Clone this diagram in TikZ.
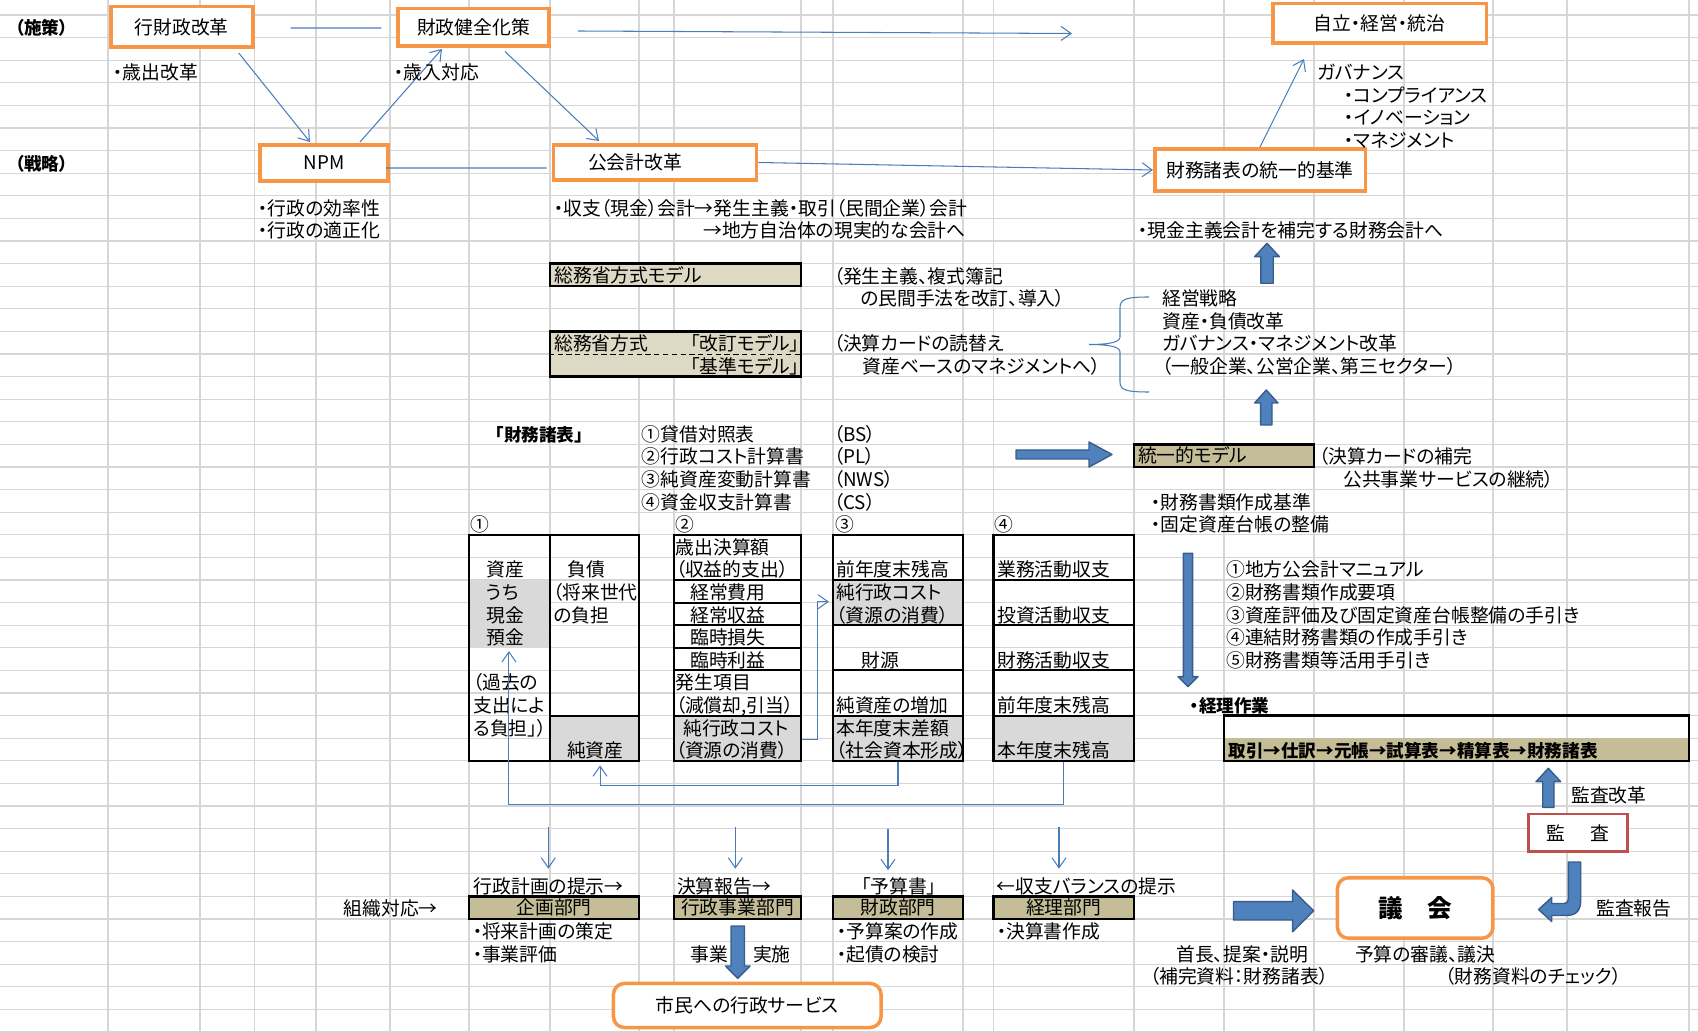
\documentclass[tikz,border=0pt]{standalone}
\usepackage{fontspec}
\setmainfont{Noto Sans CJK JP}[RawFeature=+palt]
\usetikzlibrary{calc,arrows.meta}
\definecolor{lnblue}{HTML}{4A7EBB}
\definecolor{arrblue}{HTML}{4F81BD}
\definecolor{arredge}{HTML}{385D8A}
\definecolor{obord}{HTML}{F79646}
\definecolor{rbord}{HTML}{C0504D}
\definecolor{tanlt}{HTML}{DDD9C4}
\definecolor{tandk}{HTML}{C4BD97}
\definecolor{cellgr}{HTML}{D9D9D9}
\definecolor{gridc}{HTML}{D6D6D6}
\tikzset{
  gridln/.style={draw=gridc,line width=0.6pt},
  boxsz/.style 2 args={minimum width=#1*0.02cm,minimum height=#2*0.02cm},
  obox/.style={draw=obord,fill=white,line width=2pt,inner sep=0pt},   % orange box
  rbox/.style={obox,rounded corners=0.22cm},                         % rounded orange box
  kbox/.style={draw=rbord,fill=white,line width=1.5pt,inner sep=0pt}, % red box
  tbox/.style={draw=black,line width=1.4pt,inner sep=0pt},            % tan cell
  tbl/.style={draw=black,line width=1.2pt,inner sep=0pt},             % statement table
  cellln/.style={line width=1.2pt},
  cellfill/.style={fill=cellgr},
  txt/.style={anchor=west,inner sep=0pt,text height=0.83em,text depth=0.07em},
  btxt/.style={txt,font=\bfseries},
  conn/.style={draw=lnblue,line width=0.6pt,-{Straight Barb[length=2mm,width=2.8mm]}},
  lnk/.style={draw=lnblue,line width=0.6pt},
  fatarr/.style={fill=arrblue,draw=arredge,line width=0.8pt,line join=round},
}

\begin{document}
\begin{tikzpicture}[x=0.02cm,y=-0.02cm,font=\fontsize{10.7}{12.8}\selectfont]
  \useasboundingbox (0,0) rectangle (1698,1033);
  % sheet grid
  \foreach \k in {0,...,45} \draw[gridln] (0,{15+22.6*\k}) -- (1698,{15+22.6*\k});
  \foreach \x in {108,200,254.5,316,390,469,550,639,674,801,833,963,993.5,1134,1224,1314,1404,1493,1567,1689}
    \draw[gridln] (\x,0) -- (\x,1033);

  % policy / strategy rows
  \node[btxt] (sesaku) at (15,27.8) {（施策）};
  \node[btxt] (senryaku) at (15,163.4) {（戦略）};
  \node[obox,boxsz={142}{40.5}] (gyozai) at (181.75,27) {行財政改革};
  \node[obox,boxsz={151.5}{37.5}] (zaisei) at (473.5,27.5) {財政健全化策};
  \node[obox,boxsz={213.5}{39.5}] (jiritsu) at (1379.5,23.5) {自立・経営・統治};
  \node[obox,boxsz={128.5}{36.5}] (npm) at (324,163) {NPM};
  \node[obox,boxsz={203}{35.5},text width=2.68cm,inner xsep=0.69cm,align=left] (koukaikei) at (655,162.5) {公会計改革};
  \node[obox,boxsz={210.5}{42.5}] (toitsu) at (1260,170) {財務諸表の統一的基準};
  \coordinate (topend) at (1072,33.5);

  \draw[lnk] ($(gyozai.east)+(36,1)$) -- ($(zaisei.west)+(-14.5,0.5)$);
  \draw[conn] ($(zaisei.east)+(27,3.5)$) -- (topend);
  \draw[conn] ($(gyozai.south)+(57,4)$) -- ($(npm.north)+(-14,-1)$);
  \draw[conn] ($(npm.north)+(36,-1)$) -- ($(zaisei.south)+(-31.5,1)$);
  \draw[conn] ($(zaisei.south)+(31.5,3.5)$) -- ($(koukaikei.north)+(-56,-2)$);
  \draw[lnk] ($(npm.east)+(-4,5)$) -- ($(koukaikei.west)+(-5,5.5)$);
  \draw[conn] (koukaikei.east) -- (toitsu.west);
  \draw[conn] (toitsu.north) -- ($(jiritsu.south)+(-75.5,14)$);

  \node[txt] (saishutsu) at (113,73) {・歳出改革};
  \node[txt] (sainyu) at (394,73) {・歳入対応};
  \node[txt] (gov) at (1317,73) {ガバナンス};
  \node[txt] (gov1) at (1344,95.6) {・コンプライアンス};
  \node[txt] (gov2) at (1344,118.2) {・イノベーション};
  \node[txt] (gov3) at (1344,140.8) {・マネジメント};
  \node[txt] (npm1) at (258,208.6) {・行政の効率性};
  \node[txt] (npm2) at (258,231.2) {・行政の適正化};
  \node[txt] (kk1) at (553.6,208.6) {・収支（現金）会計→発生主義・取引（民間企業）会計};
  \node[txt] (kk2) at (703,231.2) {→地方自治体の現実的な会計へ};
  \node[txt] (tt1) at (1138,231.2) {・現金主義会計を補完する財務会計へ};

  % models
  \node[tbox,fill=tanlt,boxsz={251}{22.6},text width=4.84cm,inner xsep=0.08cm,align=left] (somu1) at (675.5,274.9) {総務省方式モデル};
  \node[tbox,fill=tanlt,boxsz={251}{45.2}] (somu2) at (675.5,354) {};
  \draw[densely dashed,line width=0.5pt] (somu2.west) -- (somu2.east);
  \node[txt] (somu2a) at (554,344.2) {総務省方式};
  \node[txt,anchor=east] (kaitei) at (800,344.2) {「改訂モデル」};
  \node[txt,anchor=east] (kijun) at (800,366.8) {「基準モデル」};
  \node[txt] (hassei1) at (833.4,276.4) {（発生主義、複式簿記};
  \node[txt] (hassei2) at (860,299) {の民間手法を改訂、導入）};
  \node[txt] (kessan1) at (833.4,344.2) {（決算カードの読替え};
  \node[txt] (kessan2) at (862,366.8) {資産ベースのマネジメントへ）};

  \draw[lnk] (1149,297) .. controls (1126,297) and (1120,299) .. (1120,308) -- (1120,337)
    .. controls (1120,342) and (1110,344.5) .. (1089,344.5) .. controls (1110,344.5) and (1120,347) .. (1120,352)
    -- (1120,382) .. controls (1120,390) and (1126,392) .. (1149,392);
  \node[txt] (keiei1) at (1162,299) {経営戦略};
  \node[txt] (keiei2) at (1162,321.6) {資産・負債改革};
  \node[txt] (keiei3) at (1162,344.2) {ガバナンス・マネジメント改革};
  \node[txt] (keiei4) at (1162,366.8) {（一般企業、公営企業、第三セクター）};
  \draw[fatarr] (1260.8,283.3) -- (1260.8,256.7) -- (1254.6,256.7) -- (1267,243.3) -- (1279.4,256.7) -- (1273.2,256.7) -- (1273.2,283.3) -- cycle;
  \draw[fatarr] (1260.6,425) -- (1260.6,403) -- (1254.6,403) -- (1266.3,390) -- (1278,403) -- (1272,403) -- (1272,425) -- cycle;

  % statements list
  \node[btxt] (zaimu) at (495,434.6) {「財務諸表」};
  \node[txt] (fs1) at (641.5,434.6) {①貸借対照表};
  \node[txt] (fs2) at (641.5,457.2) {②行政コスト計算書};
  \node[txt] (fs3) at (641.5,479.8) {③純資産変動計算書};
  \node[txt] (fs4) at (641.5,502.4) {④資金収支計算書};
  \node[txt] (ab1) at (833.4,434.6) {（BS）};
  \node[txt] (ab2) at (833.4,457.2) {（PL）};
  \node[txt] (ab3) at (833.4,479.8) {（NWS）};
  \node[txt] (ab4) at (833.4,502.4) {（CS）};
  \draw[fatarr] (1016,450) -- (1089,450) -- (1089,442) -- (1112,454.5) -- (1089,467) -- (1089,459) -- (1016,459) -- cycle;
  \node[tbox,fill=tandk,boxsz={180}{22.6},text width=3.44cm,inner xsep=0.08cm,align=left] (tmodel) at (1224,455.7) {統一的モデル};
  \node[txt] (hokan1) at (1318.6,457.2) {（決算カードの補完};
  \node[txt] (hokan2) at (1343,479.8) {公共事業サービスの継続）};
  \node[txt] (kijun1) at (1151,502.4) {・財務書類作成基準};
  \node[txt] (kijun2) at (1151,525) {・固定資産台帳の整備};

  % four tables
  \fill[cellfill] (469,580) rectangle (550,647.8);
  \fill[cellfill] (550,715.6) rectangle (639,760.8);
  \fill[cellfill] (674,715.6) rectangle (801,760.8);
  \fill[cellfill] (833,580) rectangle (963,625.2);
  \fill[cellfill] (833,715.6) rectangle (963,760.8);
  \fill[cellfill] (993.5,715.6) rectangle (1134,760.8);
  \node[tbl,boxsz={170}{226}] (bs) at (554,647.8) {};
  \node[tbl,boxsz={127}{226}] (pl) at (737.5,647.8) {};
  \node[tbl,boxsz={130}{226}] (nws) at (898,647.8) {};
  \node[tbl,boxsz={140.5}{226}] (cs) at (1063.75,647.8) {};
  \draw[cellln] (550,534.8) -- (550,760.8) (550,715.6) -- (639,715.6);
  \foreach \y in {580,602.6,625.2,647.8,670.4,715.6} \draw[cellln] (674,\y) -- (801,\y);
  \foreach \y in {580,625.2,670.4,715.6} \draw[cellln] (833,\y) -- (963,\y) (993.5,\y) -- (1134,\y);

  \node[txt] (n1) at (470,525) {①};
  \node[txt] (n2) at (675.4,525) {②};
  \node[txt] (n3) at (835,525) {③};
  \node[txt] (n4) at (994.6,525) {④};

  \node[txt] (bs1) at (486,570.2) {資産};
  \node[txt] (bs2) at (486,592.8) {うち};
  \node[txt] (bs3) at (486,615.4) {現金};
  \node[txt] (bs4) at (486,638) {預金};
  \node[txt] (bs5) at (472.5,683.2) {（過去の};
  \node[txt] (bs6) at (473,705.8) {支出によ};
  \node[txt] (bs7) at (473,728.4) {る負担」）};
  \node[txt] (bs8) at (567.3,570.2) {負債};
  \node[txt] (bs9) at (552.7,592.8) {（将来世代};
  \node[txt] (bs10) at (553,615.4) {の負担};
  \node[txt] (bs11) at (566.7,751) {純資産};

  \node[txt] (pl1) at (675.4,547.6) {歳出決算額};
  \node[txt] (pl2) at (675.4,570.2) {（収益的支出）};
  \node[txt] (pl3) at (690,592.8) {経常費用};
  \node[txt] (pl4) at (690,615.4) {経常収益};
  \node[txt] (pl5) at (690,638) {臨時損失};
  \node[txt] (pl6) at (690,660.6) {臨時利益};
  \node[txt] (pl7) at (675.4,683.2) {発生項目};
  \node[txt] (pl8) at (675.4,705.8) {（減償却,引当）};
  \node[txt] (pl9) at (683,728.4) {純行政コスト};
  \node[txt] (pl10) at (675.4,751) {（資源の消費）};

  \node[txt] (nw1) at (836,570.2) {前年度末残高};
  \node[txt] (nw2) at (836,592.8) {純行政コスト};
  \node[txt] (nw3) at (836,615.4) {（資源の消費）};
  \node[txt] (nw4) at (861.6,660.6) {財源};
  \node[txt] (nw5) at (836,705.8) {純資産の増加};
  \node[txt] (nw6) at (836,728.4) {本年度末差額};
  \node[txt] (nw7) at (836,751) {（社会資本形成）};

  \node[txt] (cs1) at (997,570.2) {業務活動収支};
  \node[txt] (cs2) at (997,615.4) {投資活動収支};
  \node[txt] (cs3) at (997,660.6) {財務活動収支};
  \node[txt] (cs4) at (997,705.8) {前年度末残高};
  \node[txt] (cs5) at (997,751) {本年度末残高};

  \draw[conn] ($(pl.south east)+(0,-22.6)$) -- ++(15.5,0) |- ($(nws.north west)+(-3,68)$);
  \draw[conn] (cs.south) -- ++(0,42.4) -| ($(bs.south west)+(41,-110.8)$);
  \draw[conn] (nws.south) -- ++(0,23.4) -| ($(bs.south east)+(-40,3.5)$);

  % manuals and bookkeeping
  \draw[fatarr] (1183.4,553.3) -- (1192.6,553.3) -- (1192.6,676.7) -- (1198,676.7) -- (1188,686.7) -- (1178,676.7) -- (1183.4,676.7) -- cycle;
  \node[txt] (man1) at (1226,570.2) {①地方公会計マニュアル};
  \node[txt] (man2) at (1226,592.8) {②財務書類作成要項};
  \node[txt] (man3) at (1226,615.4) {③資産評価及び固定資産台帳整備の手引き};
  \node[txt] (man4) at (1226,638) {④連結財務書類の作成手引き};
  \node[txt] (man5) at (1226,660.6) {⑤財務書類等活用手引き};
  \node[btxt] (keirisagyo) at (1190,705.8) {・経理作業};
  \fill[tandk] (1224,738.2) rectangle (1689,760.8);
  \node[tbox,boxsz={465}{45.2}] (strip) at (1456.5,738.2) {};
  \node[btxt] (flow) at (1228.3,751) {取引→仕訳→元帳→試算表→精算表→財務諸表};

  % audit
  \draw[fatarr] (1542.7,807.3) -- (1542.7,781.7) -- (1536,781.7) -- (1548.35,768.3) -- (1560.7,781.7) -- (1554,781.7) -- (1554,807.3) -- cycle;
  \node[txt] (kansakaikaku) at (1571,796.2) {監査改革};
  \node[kbox,boxsz={99.4}{37.4}] (kansa) at (1578,832.7) {監\hspace{1.35em}査};
  \draw[fatarr] (1568.3,862) -- (1580.7,862) -- (1580.7,900) .. controls (1580.7,911) and (1576,915.5) .. (1566,915.5)
    -- (1551.7,915.5) -- (1551.7,921.5) -- (1538.5,909.5) -- (1551.7,897.5) -- (1551.7,903.5) -- (1564,903.5)
    .. controls (1567,903.5) and (1568.3,902) .. (1568.3,899) -- cycle;
  \node[txt] (kansahoukoku) at (1596,909.2) {監査報告};

  % departments
  \node[tbox,fill=tandk,boxsz={170}{22.6}] (kikaku) at (554,907.7) {企画部門};
  \node[tbox,fill=tandk,boxsz={127}{22.6}] (jigyo) at (737.5,907.7) {行政事業部門};
  \node[tbox,fill=tandk,boxsz={130}{22.6}] (zaiseibu) at (898,907.7) {財政部門};
  \node[tbox,fill=tandk,boxsz={140.5}{22.6}] (keiri) at (1063.75,907.7) {経理部門};
  \coordinate (d1) at (548.3,827);
  \coordinate (d2) at (735.3,827);
  \coordinate (d3) at (888,829);
  \coordinate (d4) at (1059,827);
  \draw[conn,shorten >=0.53cm] (d1) -- (d1 |- kikaku.north);
  \draw[conn,shorten >=0.53cm] (d2) -- (d2 |- jigyo.north);
  \draw[conn,shorten >=0.5cm] (d3) -- (d3 |- zaiseibu.north);
  \draw[conn,shorten >=0.53cm] (d4) -- (d4 |- keiri.north);
  \node[txt] (teiji) at (473.5,886.6) {行政計画の提示→};
  \node[txt] (houkoku) at (676.8,886.6) {決算報告→};
  \node[txt] (yosansho) at (861,886.6) {「予算書」};
  \node[txt] (balance) at (996.6,886.6) {←収支バランスの提示};
  \node[txt] (soshiki) at (343.4,909.2) {組織対応→};
  \node[txt] (kk3) at (472.4,931.8) {・将来計画の策定};
  \node[txt] (kk4) at (472.4,954.4) {・事業評価};
  \node[txt] (zb1) at (836.7,931.8) {・予算案の作成};
  \node[txt] (zb2) at (836.7,954.4) {・起債の検討};
  \node[txt] (kr1) at (996.6,931.8) {・決算書作成};
  \draw[fatarr] (731,926) -- (744.5,926) -- (744.5,966) -- (750,966) -- (737.7,978.3) -- (725.5,966) -- (731,966) -- cycle;
  \node[txt] (jg1) at (690,954.4) {事業};
  \node[txt] (jg2) at (752.7,954.4) {実施};
  \node[rbox,boxsz={267.6}{44.1}] (shimin) at (747.25,1005.5) {市民への行政サービス};

  % assembly
  \draw[fatarr] (1233.5,901.7) -- (1292.6,901.7) -- (1292.6,890) -- (1313.6,910.8) -- (1292.6,931.7) -- (1292.6,920) -- (1233.5,920) -- cycle;
  \node[rbox,boxsz={155.5}{60.5},font=\fontsize{14}{16}\selectfont\bfseries] (gikai) at (1415.2,908) {議　会};
  \node[txt] (shucho) at (1176,954.4) {首長、提案・説明};
  \node[txt] (hokan3) at (1149.6,977) {（補完資料：財務諸表）};
  \node[txt] (shingi) at (1354.8,954.4) {予算の審議、議決};
  \node[txt] (check) at (1445,977) {（財務資料のチェック）};
\end{tikzpicture}
\end{document}
